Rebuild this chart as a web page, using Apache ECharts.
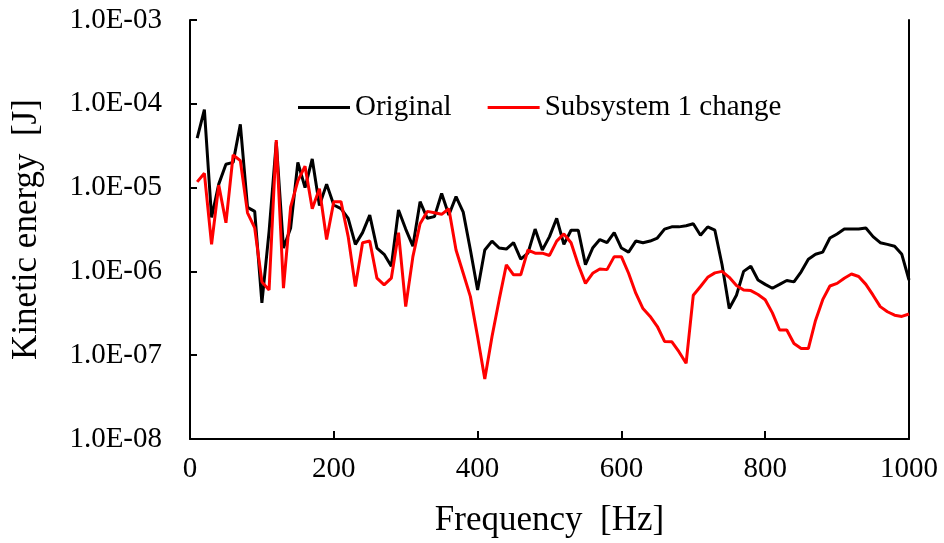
<!DOCTYPE html>
<html>
<head>
<meta charset="utf-8">
<script src="https://cdn.jsdelivr.net/npm/echarts@6/dist/echarts.min.js"></script>
<style>
  html, body { margin: 0; padding: 0; background: #fff; }
  #main { width: 944px; height: 543px; }
</style>
</head>
<body>
<div id="main"></div>
<script>
// frequency points [Hz]
var freqs = [10, 20, 30, 40, 50, 60, 70, 80, 90, 100,
    110, 120, 130, 140, 150, 160, 170, 180, 190, 200,
    210, 220, 230, 240, 250, 260, 270, 280, 290, 300,
    310, 320, 330, 340, 350, 360, 370, 380, 390, 400,
    410, 420, 430, 440, 450, 460, 470, 480, 490, 500,
    510, 520, 530, 540, 550, 560, 570, 580, 590, 600,
    610, 620, 630, 640, 650, 660, 670, 680, 690, 700,
    710, 720, 730, 740, 750, 760, 770, 780, 790, 800,
    810, 820, 830, 840, 850, 860, 870, 880, 890, 900,
    910, 920, 930, 940, 950, 960, 970, 980, 990, 1000];

// kinetic energy [J], original model
var original = [3.9e-5, 8.5e-5, 4.4e-6, 1.1e-5, 1.9e-5, 2.0e-5, 5.7e-5, 5.8e-6, 5.2e-6, 4.2e-7,
    3.0e-6, 3.5e-5, 1.9e-6, 3.3e-6, 2.0e-5, 1.0e-5, 2.2e-5, 6.1e-6, 1.1e-5, 6.2e-6,
    5.6e-6, 4.3e-6, 2.1e-6, 2.9e-6, 4.7e-6, 1.9e-6, 1.6e-6, 1.15e-6, 5.4e-6, 3.2e-6,
    2.0e-6, 6.8e-6, 4.3e-6, 4.5e-6, 8.5e-6, 4.7e-6, 7.8e-6, 5.1e-6, 1.8e-6, 6.0e-7,
    1.8e-6, 2.3e-6, 1.9e-6, 1.85e-6, 2.2e-6, 1.4e-6, 1.65e-6, 3.2e-6, 1.8e-6, 2.6e-6,
    4.3e-6, 2.1e-6, 3.1e-6, 3.1e-6, 1.2e-6, 1.9e-6, 2.4e-6, 2.2e-6, 2.9e-6, 1.9e-6,
    1.7e-6, 2.3e-6, 2.2e-6, 2.3e-6, 2.5e-6, 3.2e-6, 3.4e-6, 3.4e-6, 3.5e-6, 3.7e-6,
    2.7e-6, 3.4e-6, 3.1e-6, 1.2e-6, 3.6e-7, 5.2e-7, 1.0e-6, 1.15e-6, 7.9e-7, 7.0e-7,
    6.3e-7, 7.0e-7, 7.8e-7, 7.5e-7, 9.9e-7, 1.4e-6, 1.6e-6, 1.7e-6, 2.5e-6, 2.8e-6,
    3.2e-6, 3.2e-6, 3.2e-6, 3.3e-6, 2.6e-6, 2.2e-6, 2.1e-6, 2.0e-6, 1.6e-6, 7.9e-7];

// kinetic energy [J], subsystem 1 changed
var changed = [1.17e-5, 1.48e-5, 2.1e-6, 1.07e-5, 3.8e-6, 2.45e-5, 2.1e-5, 5.0e-6, 3.3e-6, 7.5e-7,
    6.0e-7, 3.7e-5, 6.3e-7, 5.9e-6, 1.2e-5, 1.8e-5, 5.6e-6, 9.7e-6, 2.4e-6, 6.8e-6,
    6.8e-6, 2.6e-6, 6.6e-7, 2.2e-6, 2.3e-6, 8.3e-7, 6.9e-7, 8.3e-7, 2.9e-6, 3.8e-7,
    1.5e-6, 3.7e-6, 5.2e-6, 5.0e-6, 4.8e-6, 5.6e-6, 1.8e-6, 9.5e-7, 5.0e-7, 1.66e-7,
    5.2e-8, 1.66e-7, 4.6e-7, 1.2e-6, 9.1e-7, 9.1e-7, 1.8e-6, 1.65e-6, 1.65e-6, 1.55e-6,
    2.3e-6, 2.8e-6, 2.2e-6, 1.2e-6, 7.2e-7, 9.5e-7, 1.07e-6, 1.05e-6, 1.5e-6, 1.5e-6,
    9.5e-7, 5.5e-7, 3.6e-7, 2.9e-7, 2.2e-7, 1.46e-7, 1.45e-7, 1.1e-7, 8.0e-8, 5.2e-7,
    6.6e-7, 8.5e-7, 9.6e-7, 1.0e-6, 8.5e-7, 6.8e-7, 6.0e-7, 5.9e-7, 5.3e-7, 4.6e-7,
    3.2e-7, 2.0e-7, 2.0e-7, 1.38e-7, 1.2e-7, 1.2e-7, 2.6e-7, 4.6e-7, 6.7e-7, 7.2e-7,
    8.3e-7, 9.3e-7, 8.7e-7, 7.0e-7, 5.2e-7, 3.8e-7, 3.3e-7, 3.0e-7, 2.9e-7, 3.1e-7];

var xTicks = [0, 200, 400, 600, 800, 1000];

function pairs(ys) {
    return freqs.map(function (f, i) { return [f, ys[i]]; });
}

var chart = echarts.init(document.getElementById('main'));
var font = '"Liberation Serif", "Times New Roman", serif';

var option = {
    backgroundColor: '#fff',
    animation: false,
    textStyle: { fontFamily: font },
    grid: { left: 190, right: 35, top: 20, bottom: 104 },
    legend: {
        left: 293,
        top: 88,
        icon: 'rect',
        itemWidth: 52,
        itemHeight: 3,
        itemGap: 36,
        textStyle: { fontFamily: font, fontSize: 29, color: '#000' },
        data: ['Original', 'Subsystem 1 change']
    },
    xAxis: {
        type: 'value',
        min: 0,
        max: 1000,
        interval: 200,
        name: 'Frequency  [Hz]',
        nameLocation: 'middle',
        nameGap: 64,
        nameTextStyle: { fontFamily: font, fontSize: 35, color: '#000' },
        axisLine: { lineStyle: { color: '#000', width: 2 } },
        axisTick: { inside: true, length: 8, lineStyle: { color: '#000', width: 2 } },
        axisLabel: {
            margin: 16, fontFamily: font, fontSize: 29, color: '#000',
            formatter: function (v) { return xTicks.indexOf(v) >= 0 ? String(v) : ''; }
        },
        splitLine: { show: false }
    },
    yAxis: [{
        type: 'log',
        logBase: 10,
        min: 1e-8,
        max: 1e-3,
        name: 'Kinetic energy  [J]',
        nameLocation: 'middle',
        nameGap: 146,
        nameTextStyle: { fontFamily: font, fontSize: 35, color: '#000' },
        axisLine: { show: true, lineStyle: { color: '#000', width: 2 } },
        axisTick: { inside: true, length: 7, lineStyle: { color: '#000', width: 2 } },
        axisLabel: {
            margin: 28, fontFamily: font, fontSize: 29, color: '#000',
            formatter: function (v) {
                var e = Math.round(Math.log10(v));
                return '1.0E-' + String(-e).padStart(2, '0');
            }
        },
        splitLine: { show: false }
    }, {
        type: 'log',
        logBase: 10,
        min: 1e-8,
        max: 1e-3,
        position: 'right',
        axisLine: { show: true, lineStyle: { color: '#000', width: 2 } },
        axisTick: { show: false },
        axisLabel: { show: false },
        splitLine: { show: false }
    }],
    series: [{
        name: 'Original',
        type: 'line',
        showSymbol: false,
        color: '#000000',
        lineStyle: { color: '#000000', width: 3 },
        data: pairs(original)
    }, {
        name: 'Subsystem 1 change',
        type: 'line',
        showSymbol: false,
        color: '#ff0000',
        lineStyle: { color: '#ff0000', width: 3 },
        data: pairs(changed)
    }]
};

chart.setOption(option);
</script>
</body>
</html>
